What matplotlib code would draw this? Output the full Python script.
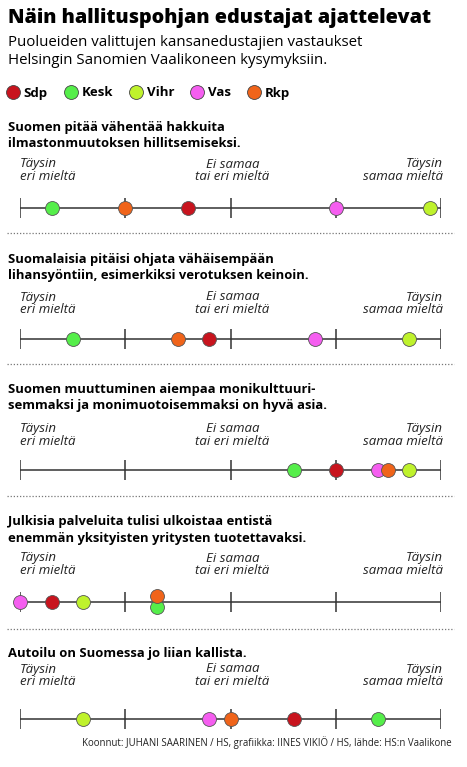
import matplotlib
matplotlib.use("Agg")
import matplotlib.pyplot as plt
from matplotlib.lines import Line2D

# parties and colours
parties = ["Sdp", "Kesk", "Vihr", "Vas", "Rkp"]
colors = ["#c8141e", "#55ee4a", "#bff22c", "#f55ef0", "#f0641a"]

# questions (1 = täysin eri mieltä, 5 = täysin samaa mieltä)
questions = [
    "Suomen pitää vähentää hakkuita\nilmastonmuutoksen hillitsemiseksi.",
    "Suomalaisia pitäisi ohjata vähäisempään\nlihansyöntiin, esimerkiksi verotuksen keinoin.",
    "Suomen muuttuminen aiempaa monikulttuuri-\nsemmaksi ja monimuotoisemmaksi on hyvä asia.",
    "Julkisia palveluita tulisi ulkoistaa entistä\nenemmän yksityisten yritysten tuotettavaksi.",
    "Autoilu on Suomessa jo liian kallista.",
]
sdp = [2.6, 2.8, 4.0, 1.3, 3.6]
kesk = [1.3, 1.5, 3.6, 2.3, 4.4]
vihr = [4.9, 4.7, 4.7, 1.6, 1.6]
vas = [4.0, 3.8, 4.4, 1.0, 2.8]
rkp = [2.0, 2.5, 4.5, 2.3, 3.0]
scale_labels = ["Täysin\neri mieltä", "Ei samaa\ntai eri mieltä", "Täysin\nsamaa mieltä"]

W, H = 467, 767
fig = plt.figure(figsize=(W / 100, H / 100), dpi=100)
fig.patch.set_facecolor("white")


def fy(y):
    return 1 - y / H


def fx(x):
    return x / W


fig.text(fx(8), fy(18), "Näin hallituspohjan edustajat ajattelevat",
         fontsize=14.2, fontweight="heavy", family="Open Sans", va="center")
fig.text(fx(8), fy(43), "Puolueiden valittujen kansanedustajien vastaukset",
         fontsize=10.8, family="Open Sans", va="center")
fig.text(fx(8), fy(61), "Helsingin Sanomien Vaalikoneen kysymyksiin.",
         fontsize=10.8, family="Open Sans", va="center")

handles = [Line2D([], [], ls="", marker="o", ms=10, mfc=c, mec="#444444", mew=0.6)
           for c in colors]
fig.legend(handles, parties, loc="center left", bbox_to_anchor=(fx(2), fy(93)),
           ncol=5, frameon=False, handlelength=0.9, handletextpad=0.35,
           columnspacing=1.3, borderaxespad=0,
           prop={"family": "Open Sans", "weight": "bold", "size": 9.5})

axis_y = [208, 339, 470, 602, 719]
q_y = [127, 259, 389, 522, 653]
lab_y = [164, 297, 429, 558, 669]
sep_y = [233, 364, 496, 629]

values = list(zip(sdp, kesk, vihr, vas, rkp))
x0, x1 = 20, 441

for i, q in enumerate(questions):
    for j, line in enumerate(q.split("\n")):
        fig.text(fx(8), fy(q_y[i] + j * 16.5), line, fontsize=9.4,
                 fontweight="bold", family="Open Sans", va="center")
    for k, (lab, ha, xp) in enumerate(zip(scale_labels, ["left", "center", "right"],
                                          [x0, (x0 + x1) / 2 + 2, x1 + 2])):
        for j, line in enumerate(lab.split("\n")):
            fig.text(fx(xp), fy(lab_y[i] + j * 12.5), line, fontsize=9.5,
                     style="italic", family="Open Sans", color="#222222",
                     ha=ha, va="center")

    ax = fig.add_axes([fx(x0), fy(axis_y[i] + 20), fx(x1 - x0), 40 / H])
    ax.set_xlim(1, 5)
    ax.set_ylim(-20, 20)
    ax.axis("off")
    ax.hlines(0, 1, 5, color="#333333", lw=1.1, zorder=1)
    ax.vlines([1, 2, 3, 4, 5], -10, 10, color="#333333", lw=1.1, zorder=1)

    vals = values[i]
    seen = {}
    for p, (v, c) in enumerate(zip(vals, colors)):
        dup = [w for w in vals if w == v]
        off = 0
        if len(dup) > 1:
            n = seen.get(v, 0)
            off = -5 if n == 0 else 6
            seen[v] = n + 1
        ax.scatter([v], [off], s=100, color=c, edgecolor="#555555",
                   linewidth=0.6, zorder=3 + p, clip_on=False)

for y in sep_y:
    fig.add_artist(Line2D([fx(7), fx(454)], [fy(y), fy(y)], color="#777777",
                          lw=0.9, ls=(0, (1, 1.5))))

fig.text(fx(452), fy(743),
         "Koonnut: JUHANI SAARINEN / HS, grafiikka: IINES VIKIÖ / HS, lähde: HS:n Vaalikone",
         fontsize=6.9, family="Open Sans", ha="right", va="center", color="#222222")

fig.savefig("out.png", dpi=100, facecolor="white")
